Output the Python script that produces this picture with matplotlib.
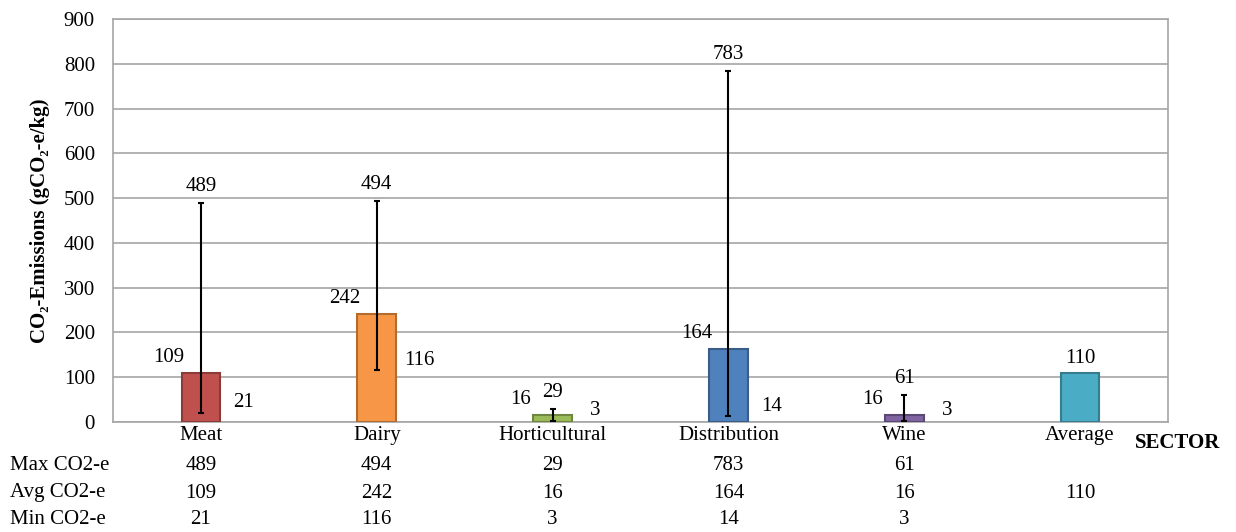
import matplotlib
matplotlib.use('Agg')
import matplotlib.pyplot as plt
import matplotlib.transforms as mtransforms
import matplotlib.colors as mcolors

plt.rcParams['font.family'] = ['Liberation Serif', 'DejaVu Serif']

sectors = ['Meat', 'Dairy', 'Horticultural', 'Distribution', 'Wine', 'Average']
max_co2 = [489, 494, 29, 783, 61, None]
avg_co2 = [109, 242, 16, 164, 16, 110]
min_co2 = [21, 116, 3, 14, 3, None]
colors = ['#C0504D', '#F79646', '#9BBB59', '#4F81BD', '#8064A2', '#4BACC6']
row_names = ['Max CO2-e', 'Avg CO2-e', 'Min CO2-e']

def darker(c, f=0.72):
    r, g, b = mcolors.to_rgb(c)
    return (r * f, g * f, b * f)

fig = plt.figure(figsize=(12.36, 5.32), dpi=100)
ax = fig.add_axes([113 / 1236, 1 - 422 / 532, (1168 - 113) / 1236, (422 - 19) / 532])

x = list(range(len(sectors)))
ax.bar(x, avg_co2, width=0.22, color=colors,
       edgecolor=[darker(c) for c in colors], linewidth=1.5, zorder=3)

fs = 15
for i in x:
    if max_co2[i] is not None:
        ax.errorbar(i, avg_co2[i],
                    yerr=[[avg_co2[i] - min_co2[i]], [max_co2[i] - avg_co2[i]]],
                    fmt='none', ecolor='black', elinewidth=1.5, capsize=2.5,
                    capthick=1.5, zorder=4)
        # avg label up-left, max label above, min label to the right
        ax.annotate(str(avg_co2[i]), (i, avg_co2[i]), xytext=(-23, 11),
                    textcoords='offset points', ha='center', va='center', fontsize=fs)
        ax.annotate(str(max_co2[i]), (i, max_co2[i]), xytext=(0, 12),
                    textcoords='offset points', ha='center', va='center', fontsize=fs)
        ax.annotate(str(min_co2[i]), (i, min_co2[i]), xytext=(31, 7),
                    textcoords='offset points', ha='center', va='center', fontsize=fs)
    else:
        ax.annotate(str(avg_co2[i]), (i, avg_co2[i]), xytext=(0, 10),
                    textcoords='offset points', ha='center', va='center', fontsize=fs)

ax.set_xlim(-0.5, len(sectors) - 0.5)
ax.set_ylim(0, 900)
ax.set_yticks(range(0, 901, 100))
ax.tick_params(axis='y', labelsize=fs, length=0, pad=13)
ax.set_xticks(x)
ax.set_xticklabels(sectors)
ax.tick_params(axis='x', labelsize=fs, length=0, pad=3)
ax.yaxis.grid(True, color='#A6A6A6', linewidth=1.2, zorder=0)
ax.set_axisbelow(True)
for s in ax.spines.values():
    s.set_color('#A6A6A6')
    s.set_linewidth(1.2)

ax.set_ylabel('CO\u2082-Emissions (gCO\u2082-e/kg)', fontsize=15, fontweight='bold', labelpad=10)
fig.text(1135 / 1236, 1 - 443 / 532, 'SECTOR', fontsize=15, fontweight='bold',
         ha='left', va='center')

# data table below the chart
trans = mtransforms.blended_transform_factory(ax.transData, fig.transFigure)
row_y = [1 - 465 / 532, 1 - 493 / 532, 1 - 519 / 532]
rows = [max_co2, avg_co2, min_co2]
for name, vals, yy in zip(row_names, rows, row_y):
    fig.text(10 / 1236, yy, name, fontsize=fs, ha='left', va='center')
    for i, v in enumerate(vals):
        if v is not None:
            ax.text(i, yy, str(v), transform=trans, fontsize=fs,
                    ha='center', va='center', clip_on=False)

fig.savefig('out.png', dpi=100)
